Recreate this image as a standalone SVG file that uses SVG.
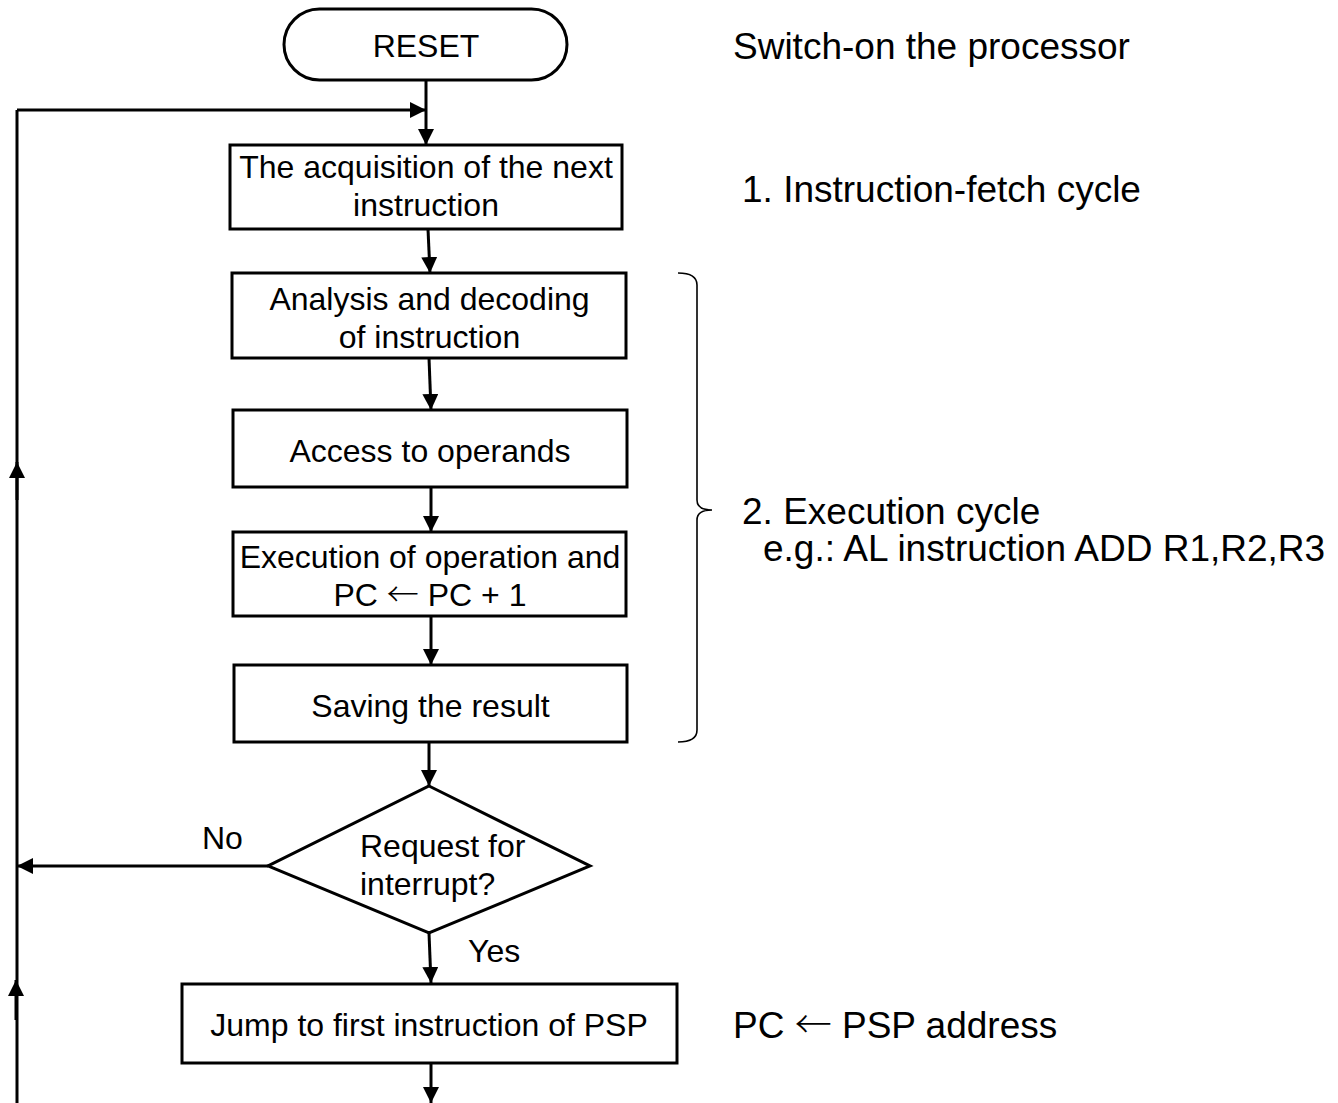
<svg xmlns="http://www.w3.org/2000/svg" width="1338" height="1103" viewBox="0 0 1338 1103">
  <style>
    .shape { fill: #ffffff; stroke: #000000; stroke-width: 3; }
    .line { fill: none; stroke: #000000; stroke-width: 3; }
    .brace { fill: none; stroke: #000000; stroke-width: 1.6; }
    text { font-family: "Liberation Sans", Arial, sans-serif; fill: #000000; }
    .box { font-size: 32px; text-anchor: middle; }
    .label { font-size: 32px; }
    .note { font-size: 37px; }
    .sym { font-family: "Noto Sans CJK SC", "DejaVu Sans", sans-serif; font-weight: 300; }
  </style>
  <defs>
    <marker id="arrowBig" viewBox="0 0 10 10" refX="10" refY="5" markerWidth="16" markerHeight="16" markerUnits="userSpaceOnUse" orient="auto">
      <path d="M0,0 L10,5 L0,10 Z" fill="#000000"/>
    </marker>
  </defs>

  <!-- connectors -->
  <g id="connectors">
    <line class="line" x1="426" y1="80" x2="426" y2="145" marker-end="url(#arrowBig)"/>
    <line class="line" x1="17" y1="110" x2="426" y2="110" marker-end="url(#arrowBig)"/>
    <line class="line" x1="428" y1="229" x2="430" y2="273" marker-end="url(#arrowBig)"/>
    <line class="line" x1="429" y1="358" x2="431" y2="410" marker-end="url(#arrowBig)"/>
    <line class="line" x1="431" y1="487" x2="431" y2="532" marker-end="url(#arrowBig)"/>
    <line class="line" x1="431" y1="616" x2="431" y2="665" marker-end="url(#arrowBig)"/>
    <line class="line" x1="429" y1="742" x2="429" y2="786" marker-end="url(#arrowBig)"/>
    <line class="line" x1="268" y1="866" x2="17" y2="866" marker-end="url(#arrowBig)"/>
    <line class="line" x1="429" y1="933" x2="431" y2="983" marker-end="url(#arrowBig)"/>
    <line class="line" x1="431" y1="1063" x2="431" y2="1103" marker-end="url(#arrowBig)"/>
    <!-- return path on the left -->
    <line class="line" x1="17" y1="1103" x2="17" y2="110"/>
    <line class="line" x1="17" y1="500" x2="17" y2="462" marker-end="url(#arrowBig)"/>
    <line class="line" x1="16" y1="1020" x2="16" y2="980" marker-end="url(#arrowBig)"/>
  </g>

  <g id="reset">
    <rect class="shape" x="284" y="9" width="283" height="71" rx="35.5" ry="35.5"/>
    <text class="box" x="426" y="57">RESET</text>
  </g>

  <g id="fetch">
    <rect class="shape" x="230" y="145" width="392" height="84"/>
    <text class="box" x="426" y="178">The acquisition of the next</text>
    <text class="box" x="426" y="216">instruction</text>
  </g>

  <g id="decode">
    <rect class="shape" x="232" y="273" width="394" height="85"/>
    <text class="box" x="429.5" y="310">Analysis and decoding</text>
    <text class="box" x="429.5" y="348">of instruction</text>
  </g>

  <g id="operands">
    <rect class="shape" x="233" y="410" width="394" height="77"/>
    <text class="box" x="430" y="462">Access to operands</text>
  </g>

  <g id="execute">
    <rect class="shape" x="233" y="532" width="393" height="84"/>
    <text class="box" x="430" y="568">Execution of operation and</text>
    <text class="box" x="430" y="606">PC <tspan class="sym">←</tspan> PC + 1</text>
  </g>

  <g id="save">
    <rect class="shape" x="234" y="665" width="393" height="77"/>
    <text class="box" x="430.5" y="717">Saving the result</text>
  </g>

  <g id="interrupt">
    <polygon class="shape" points="429,786 590,866 429,933 268,866"/>
    <text class="label" x="360" y="857">Request for</text>
    <text class="label" x="360" y="895">interrupt?</text>
    <text class="label" x="202" y="849">No</text>
    <text class="label" x="468" y="962">Yes</text>
  </g>

  <g id="jump">
    <rect class="shape" x="182" y="984" width="495" height="79"/>
    <text class="box" x="429" y="1036">Jump to first instruction of PSP</text>
  </g>

  <!-- brace grouping the execution steps -->
  <g id="execution-brace">
    <path class="brace" d="M678,273 Q697,273 697,285 L697,500 Q697,510 712,510 Q697,510 697,520 L697,730 Q697,742 678,742"/>
  </g>

  <g id="notes">
    <text class="note" x="733" y="59">Switch-on the processor</text>
    <text class="note" x="742" y="202">1. Instruction-fetch cycle</text>
    <text class="note" x="742" y="524">2. Execution cycle</text>
    <text class="note" x="763" y="561">e.g.: AL instruction ADD R1,R2,R3</text>
    <text class="note" x="733" y="1038">PC <tspan class="sym">←</tspan> PSP address</text>
  </g>
</svg>
